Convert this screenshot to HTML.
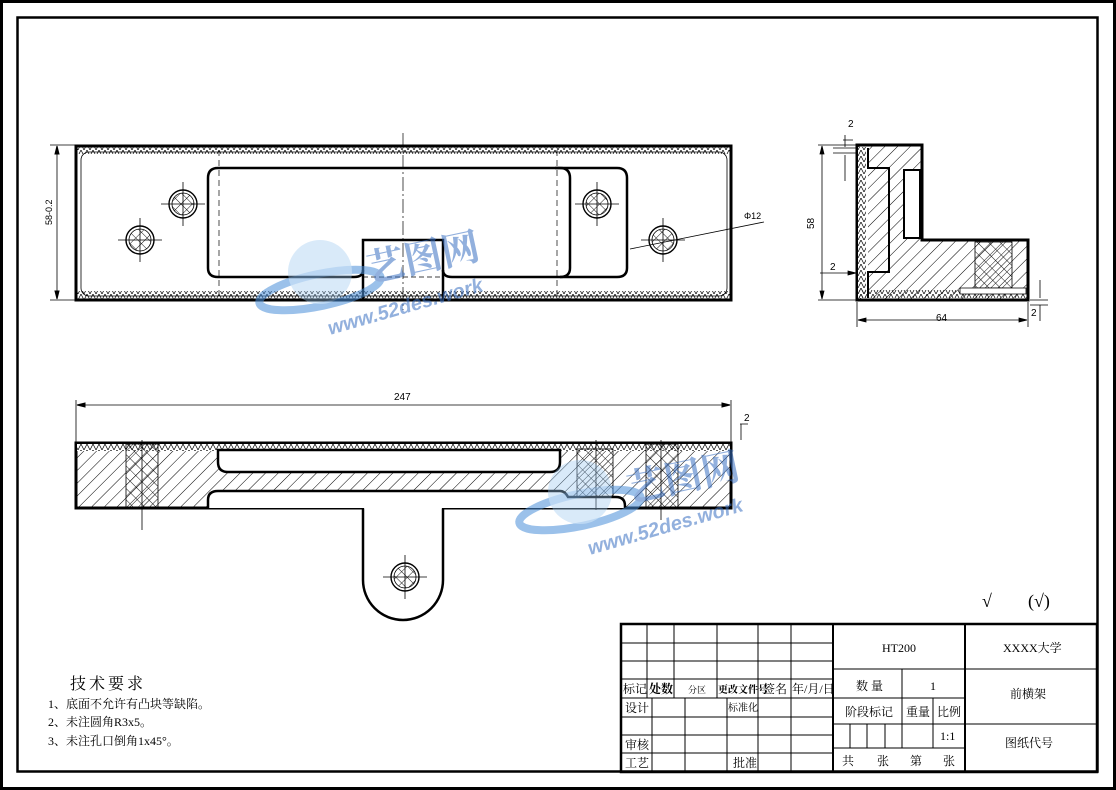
<!DOCTYPE html>
<html><head><meta charset="utf-8"><style>
html,body{margin:0;padding:0;background:#fff}
svg{display:block}
text{font-family:"Liberation Serif","Noto Serif CJK SC","Noto Sans CJK SC",serif;fill:#000}
.s{font-family:"Liberation Sans","Noto Sans CJK SC",sans-serif}
</style></head><body>
<svg width="1116" height="790" viewBox="0 0 1116 790" xmlns="http://www.w3.org/2000/svg">
<defs>
<pattern id="h" width="9" height="9" patternUnits="userSpaceOnUse" patternTransform="rotate(45)"><line x1="0" y1="0" x2="0" y2="9" stroke="#000" stroke-width="1"/></pattern>
<pattern id="x" width="8" height="8" patternUnits="userSpaceOnUse" patternTransform="rotate(45)"><line x1="0" y1="0" x2="0" y2="8" stroke="#000" stroke-width="0.9"/><line x1="0" y1="0" x2="8" y2="0" stroke="#000" stroke-width="0.9"/></pattern>
<pattern id="z" width="6" height="6" patternUnits="userSpaceOnUse"><path d="M0 6 L3 0 L6 6" fill="none" stroke="#000" stroke-width="0.7"/></pattern>
</defs>
<rect x="1.5" y="1.5" width="1113" height="787" fill="none" stroke="#000" stroke-width="3"/>
<rect x="17.5" y="17.5" width="1080" height="754" fill="none" stroke="#000" stroke-width="2.5"/>

<!-- TOP VIEW -->
<g fill="none" stroke="#000">
<line x1="50" y1="145" x2="75" y2="145" stroke-width="0.8"/>
<line x1="50" y1="300" x2="75" y2="300" stroke-width="0.8"/>
<line x1="57" y1="146" x2="57" y2="299" stroke-width="0.8"/>
<path d="M57 146 l-2 8 h4z M57 299 l-2 -8 h4z" fill="#000"/>
<rect x="76" y="146" width="655" height="154" stroke-width="3"/>
<rect x="76" y="146" width="655" height="8" fill="url(#z)" stroke="none"/>
<rect x="76" y="291" width="655" height="8" fill="url(#z)" stroke="none"/>
<rect x="81" y="152" width="646" height="144" rx="8" stroke-width="0.8"/>
<path d="M555 168 H617 Q627 168 627 178 V268 Q627 277 617 277 H560" stroke-width="2.5"/>
<path d="M218 168 H560 Q570 168 570 178 V268 Q570 277 560 277 H452 Q443 277 443 270 V240 H363 V270 Q363 277 354 277 H218 Q208 277 208 268 V178 Q208 168 218 168 Z" stroke-width="2.5"/>
<path d="M363 270 V299 M443 270 V299" stroke-width="2.5"/>
<line x1="363" y1="277" x2="443" y2="277" stroke-width="0.8" stroke-dasharray="5 3"/>
<line x1="403" y1="133" x2="403" y2="310" stroke-width="0.7" stroke-dasharray="14 3 2 3"/>
<line x1="219" y1="150" x2="219" y2="300" stroke-width="0.7" stroke-dasharray="6 4"/>
<line x1="557" y1="150" x2="557" y2="300" stroke-width="0.7" stroke-dasharray="6 4"/>
<g stroke-width="0.8">
<circle cx="140" cy="240" r="14" stroke-width="1.4"/><circle cx="140" cy="240" r="11" fill="url(#x)"/><path d="M118 240h44M140 218v44"/>
<circle cx="183" cy="204" r="14" stroke-width="1.4"/><circle cx="183" cy="204" r="11" fill="url(#x)"/><path d="M161 204h44M183 182v44"/>
<circle cx="597" cy="204" r="14" stroke-width="1.4"/><circle cx="597" cy="204" r="11" fill="url(#x)"/><path d="M575 204h44M597 182v44"/>
<circle cx="663" cy="240" r="14" stroke-width="1.4"/><circle cx="663" cy="240" r="11" fill="url(#x)"/><path d="M641 240h44M663 218v44"/>
<line x1="630" y1="249" x2="764" y2="222"/>
</g>
</g>
<text x="744" y="219" font-size="9" class="s">Φ12</text>
<text x="52" y="225" font-size="9" class="s" transform="rotate(-90 52 225)">58-0.2</text>

<!-- SIDE VIEW -->
<g fill="none" stroke="#000">
<path d="M857 145 H922 V240 H1028 V300 H857 Z" fill="url(#h)" stroke-width="3"/>
<rect x="858" y="147" width="10" height="151" fill="#fff" stroke="none"/>
<rect x="858" y="147" width="8" height="151" fill="url(#z)" stroke="none"/>
<rect x="858" y="290" width="168" height="8" fill="url(#z)" stroke="none"/>
<path d="M868 148 V168 H889 V272 H868 V298" stroke-width="2"/>
<rect x="904" y="170" width="16" height="68" fill="#fff" stroke-width="2"/>
<rect x="975" y="242" width="37" height="46" fill="url(#x)" stroke-width="0.8"/>
<path d="M960 288h66v6h-66z" fill="#fff" stroke-width="0.8"/>
<g stroke-width="0.8">
<path d="M818 145h38M818 300h38M822 146v153M857 302v25M1028 302v25M858 320h169"/>
<path d="M822 146l-2 8h4z M822 299l-2 -8h4z M858 320l8 -2v4z M1027 320l-8 -2v4z" fill="#000"/>
<path d="M845 135v12M845 155v26M843 140h10M833 148h24M833 153h24"/>
<path d="M820 273h36"/><path d="M856 273l-8 -2v4z" fill="#000"/>
<path d="M1040 280v18M1040 305v16M1030 300h18M1030 305h18"/>
</g>
</g>
<text x="848" y="127" font-size="10" class="s">2</text>
<text x="830" y="270" font-size="10" class="s">2</text>
<text x="1031" y="316" font-size="10" class="s">2</text>
<text x="936" y="321" font-size="10" class="s">64</text>
<text x="814" y="229" font-size="10" class="s" transform="rotate(-90 814 229)">58</text>

<!-- FRONT VIEW -->
<g fill="none" stroke="#000">
<line x1="76" y1="400" x2="76" y2="443" stroke-width="0.8"/>
<line x1="731" y1="400" x2="731" y2="443" stroke-width="0.8"/>
<line x1="77" y1="405" x2="730" y2="405" stroke-width="0.8"/>
<path d="M77 405l8 -2v4z M730 405l-8 -2v4z" fill="#000"/>
<path d="M740 424h8M741 424v16" stroke-width="0.8"/>
<rect x="76" y="443" width="655" height="65" fill="url(#h)" stroke-width="3"/>
<rect x="77" y="444" width="653" height="7" style="fill:#fff" stroke="none"/>
<rect x="77" y="444" width="653" height="7" fill="url(#z)" stroke="none"/>
<rect x="126" y="444" width="32" height="63" fill="url(#x)" stroke-width="0.8"/>
<rect x="646" y="444" width="32" height="63" fill="url(#x)" stroke-width="0.8"/>
<rect x="577" y="449" width="36" height="50" fill="url(#x)" stroke-width="0.8"/>
<path d="M218 450 H560 V462 Q560 472 550 472 H228 Q218 472 218 462 Z" fill="#fff" stroke-width="2.5"/>
<path d="M208 508 V500 Q208 491 218 491 H560 Q565 491 568 497 H616 Q625 497 625 506 V508" fill="#fff" stroke-width="2.5"/>
<path d="M363 508 V580 A40 40 0 0 0 443 580 V508" fill="#fff" stroke-width="2.5"/>
<line x1="364" y1="507" x2="442" y2="507" stroke="#fff" stroke-width="3"/>
<g stroke-width="0.8">
<circle cx="405" cy="577" r="14" stroke-width="1.4"/><circle cx="405" cy="577" r="11" fill="url(#x)"/><path d="M383 577h44M405 555v44"/>
<path d="M142 440v90M596 440v70M661 440v80"/>
</g>
</g>
<text x="394" y="400" font-size="10" class="s">247</text>
<text x="744" y="421" font-size="10" class="s">2</text>

<!-- watermark -->
<g opacity="0.55">
<ellipse cx="320" cy="290" rx="62" ry="16" fill="none" stroke="#4a8fd9" stroke-width="8" transform="rotate(-12 320 290)"/>
<circle cx="320" cy="272" r="32" fill="#9cc7f0" opacity="0.7"/>
<text x="370" y="282" font-size="38" style="fill:#3a6fc2" transform="rotate(-12 370 282)" font-weight="bold">艺图网</text>
<text x="330" y="335" font-size="20" style="fill:#3a6fc2" transform="rotate(-16 330 335)" font-style="italic" font-weight="bold" class="s">www.52des.work</text>
<ellipse cx="580" cy="510" rx="62" ry="16" fill="none" stroke="#4a8fd9" stroke-width="8" transform="rotate(-12 580 510)"/>
<circle cx="580" cy="492" r="32" fill="#9cc7f0" opacity="0.7"/>
<text x="630" y="502" font-size="38" style="fill:#3a6fc2" transform="rotate(-12 630 502)" font-weight="bold">艺图网</text>
<text x="590" y="555" font-size="20" style="fill:#3a6fc2" transform="rotate(-16 590 555)" font-style="italic" font-weight="bold" class="s">www.52des.work</text>
</g>

<!-- roughness -->
<text x="982" y="607" font-size="18">√</text>
<text x="1028" y="607" font-size="18">(√)</text>

<!-- tech reqs -->
<text x="70" y="689" font-size="16" letter-spacing="3">技术要求</text>
<text x="48" y="708" font-size="12">1、底面不允许有凸块等缺陷。</text>
<text x="48" y="726" font-size="12">2、未注圆角R3x5。</text>
<text x="48" y="745" font-size="12">3、未注孔口倒角1x45°。</text>

<!-- TITLE BLOCK -->
<g fill="none" stroke="#000" stroke-width="1">
<rect x="621" y="624" width="476" height="148" stroke-width="2.5"/>
<path d="M833 624V772M965 624V772" stroke-width="2"/>
<path d="M621 643H833M621 661H833M621 679H833M621 698H833M621 717H833M621 735H833M621 753H833"/>
<path d="M647 624V698M674 624V698M717 624V698M758 624V772M791 624V772"/>
<path d="M652 698V772M685 698V772M727 698V772"/>
<path d="M833 669H965M833 698H965M833 724H965M833 748H965M965 669H1097M965 724H1097"/>
<path d="M902 669V748M933 698V748M850 724V748M867 724V748M885 724V748"/>
</g>
<g font-size="12">
<text x="623" y="693">标记</text><text x="649" y="693" font-weight="bold">处数</text>
<text x="688" y="693" font-size="9">分区</text><text x="718" y="693" font-size="10" font-weight="bold">更改文件号</text>
<text x="763" y="693">签名</text><text x="792" y="693">年/月/日</text>
<text x="625" y="712">设计</text><text x="728" y="711" font-size="10">标准化</text>
<text x="625" y="749">审核</text><text x="625" y="767">工艺</text><text x="733" y="767">批准</text>
<text x="882" y="652">HT200</text><text x="1003" y="652">XXXX大学</text>
<text x="856" y="690">数 量</text><text x="930" y="690">1</text>
<text x="1010" y="698">前横架</text>
<text x="845" y="716">阶段标记</text><text x="906" y="716">重量</text><text x="937" y="716">比例</text>
<text x="940" y="740">1:1</text>
<text x="1005" y="747">图纸代号</text>
<text x="842" y="765">共</text><text x="877" y="765">张</text><text x="910" y="765">第</text><text x="943" y="765">张</text>
</g>
</svg>
</body></html>
